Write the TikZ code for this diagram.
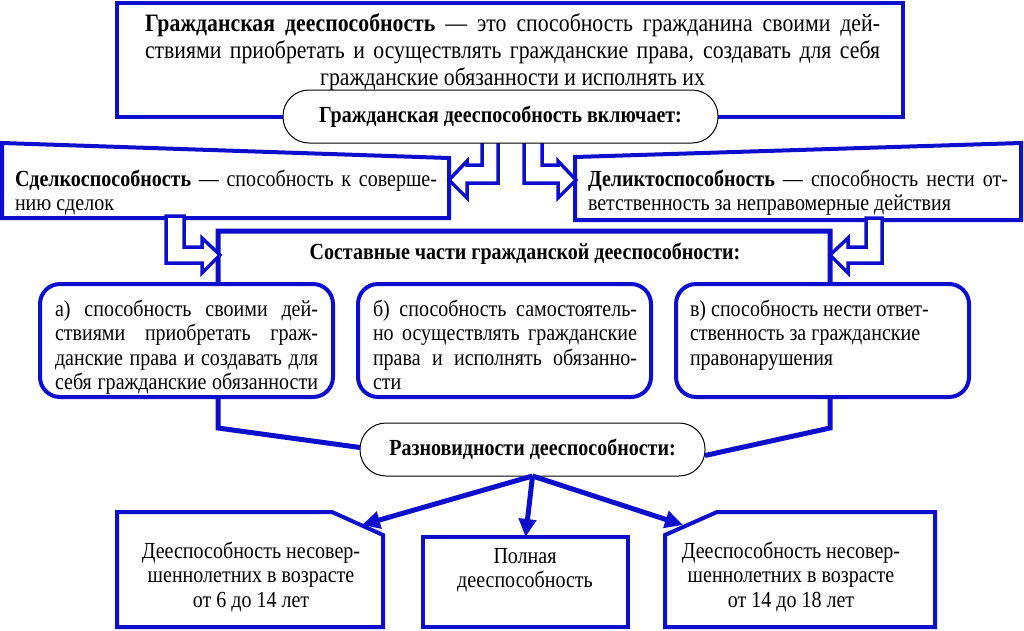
\documentclass[tikz,border=0pt]{standalone}
\usepackage{fontspec}
\setmainfont{Liberation Serif}[FakeStretch=0.87]
\usetikzlibrary{arrows.meta}
\definecolor{bl}{RGB}{14,14,205}
\newcommand\JL[2]{\hbox to #1pt{#2}}
\newcommand\LL[2]{\hbox to #1pt{#2\hfil}}
\newcommand\CL[2]{\hbox to #1pt{\hfil#2\hfil}}
\tikzset{
  bbox/.style={draw=bl, line width=4pt, fill=white, inner sep=0pt, outer sep=0pt},
  pill/.style={draw=black, line width=1pt, fill=white, rounded corners=26pt, inner sep=0pt, outer sep=0pt,
    font=\fontsize{23}{26}\selectfont\bfseries},
  rbox/.style={draw=bl, line width=4pt, fill=white, rounded corners=20pt, inner sep=0pt, outer sep=0pt,
    minimum width=293pt, minimum height=113pt},
  hollow/.style={draw=bl, line width=3.5pt, fill=white, line join=miter},
  conn/.style={draw=bl, line width=5pt, line join=miter},
  arr/.style={draw=bl, line width=5pt, -{Triangle[length=18pt,width=17pt]}},
  txt/.style={inner sep=0pt, outer sep=0pt, anchor=base west, font=\fontsize{23}{24.5}\selectfont},
  ctxt/.style={inner sep=0pt, outer sep=0pt, anchor=base, font=\fontsize{23}{24.5}\selectfont}
}
\begin{document}
\begin{tikzpicture}[x=1pt,y=-1pt]
\useasboundingbox (0,0) rectangle (1024,630);
\fill[white] (0,0) rectangle (1024,630);

% top definition box
\node[bbox, minimum width=786pt, minimum height=114pt] (def) at (510,60) {};
\node[txt, font=\fontsize{25}{27}\selectfont] (deftxt) at (145,31) {\vtop{%
\JL{735}{\textbf{Гражданская дееспособность} — это способность гражданина своими дей-}%
\JL{735}{ствиями приобретать и осуществлять гражданские права, создавать для себя}%
\CL{735}{гражданские обязанности и исполнять их}}};

% left and right slanted boxes
\filldraw[bbox] (2,143) -- (449,158) -- (449,218) -- (2,218) -- cycle;
\filldraw[bbox] (575,157) -- (1021,143) -- (1021,220) -- (575,220) -- cycle;
\node[txt] (sdel) at (15,186) {\vtop{%
\JL{422}{\textbf{Сделкоспособность} — способность к соверше-}%
\LL{422}{нию сделок}}};
\node[txt] (delikt) at (588,186) {\vtop{%
\JL{420}{\textbf{Деликтоспособность} — способность нести от-}%
\LL{420}{ветственность за неправомерные действия}}};

% upper hollow arrows
\filldraw[hollow] (482,135) -- (482,165) -- (467,165) -- (467,161) -- (449,180) -- (467,198) -- (467,183) -- (498,183) -- (498,135) -- cycle;
\filldraw[hollow] (542,135) -- (542,165) -- (558,165) -- (558,161) -- (576,180) -- (558,198) -- (558,183) -- (524,183) -- (524,135) -- cycle;

% pill 1
\node[pill, minimum width=435pt, minimum height=53pt] (incl) at (500.5,116.5) {Гражданская дееспособность включает:};

% pill 2
\node[pill, minimum width=345pt, minimum height=53pt] (kinds) at (532.5,449.5) {Разновидности дееспособности:};

% middle frame
\coordinate (mL) at (218,428);
\coordinate (mR) at (830,428);
\draw[conn] (kinds.west) ++(0,-2) -- (mL) -- (218,231) -- (830,231) -- (mR) -- ([yshift=-6pt]kinds.east);
\node[ctxt, font=\fontsize{23}{24}\selectfont\bfseries] (parts) at (525,259) {Составные части гражданской дееспособности:};

% lower hollow arrows
\filldraw[hollow] (166,216) -- (184,216) -- (184,247) -- (202,247) -- (202,238) -- (220,255) -- (202,273) -- (202,263) -- (166,263) -- cycle;
\filldraw[hollow] (882,218) -- (866,218) -- (866,247) -- (848,247) -- (848,238) -- (830,255) -- (848,273) -- (848,263) -- (882,263) -- cycle;

% rounded boxes
\node[rbox] (pa) at (186.5,340.5) {};
\node[rbox] (pb) at (504.5,340.5) {};
\node[rbox] (pc) at (822.5,340.5) {};
\node[txt] (ta) at (55,316) {\vtop{%
\JL{263}{а) способность своими дей-}%
\JL{263}{ствиями приобретать граж-}%
\JL{263}{данские права и создавать для}%
\JL{263}{себя гражданские обязанности}}};
\node[txt] (tb) at (373,316) {\vtop{%
\JL{264}{б) способность самостоятель-}%
\JL{264}{но осуществлять гражданские}%
\JL{264}{права и исполнять обязанно-}%
\LL{264}{сти}}};
\node[txt] (tc) at (690,316) {\vtop{%
\LL{264}{в) способность нести ответ-}%
\LL{264}{ственность за гражданские}%
\LL{264}{правонарушения}}};

% bottom boxes
\filldraw[bbox] (117,512) -- (332,512) -- (383,535) -- (383,627) -- (117,627) -- cycle;
\filldraw[bbox] (717,512) -- (935,512) -- (935,627) -- (665,627) -- (665,535) -- cycle;
\node[bbox, minimum width=205pt, minimum height=90pt] (full) at (525.5,582) {};
\coordinate (tipL) at (362,525);
\coordinate (tipR) at (683,525);
\node[ctxt] (minor1) at (251,558) {\vtop{%
\CL{260}{Дееспособность несовер-}%
\CL{260}{шеннолетних в возрасте}%
\CL{260}{от 6 до 14 лет}}};
\node[ctxt] (minor2) at (791,558) {\vtop{%
\CL{260}{Дееспособность несовер-}%
\CL{260}{шеннолетних в возрасте}%
\CL{260}{от 14 до 18 лет}}};
\node[ctxt] (fulltxt) at (525,563) {\vtop{%
\CL{200}{Полная}%
\CL{200}{дееспособность}}};

% bottom arrows
\draw[arr] (kinds.south) -- (tipL);
\draw[arr] (kinds.south) -- (full.north);
\draw[arr] (kinds.south) -- (tipR);
\end{tikzpicture}
\end{document}
